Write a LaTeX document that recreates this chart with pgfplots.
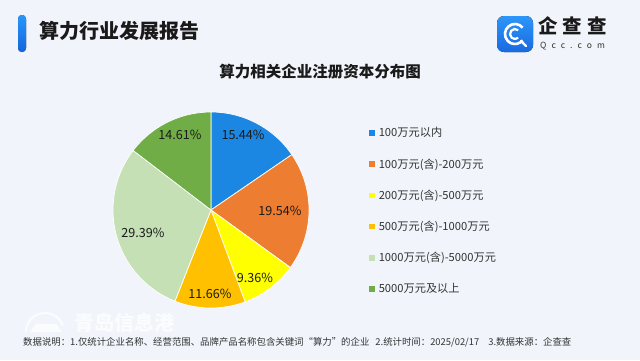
\documentclass[border=0pt]{standalone}
\usepackage{pgfplots}
\pgfplotsset{compat=1.18}
\usepackage{fontspec}
\setmainfont{Noto Sans CJK SC}
\definecolor{bgcol}{RGB}{241,244,250}
\definecolor{cblue}{HTML}{1C87E3}
\definecolor{corange}{HTML}{ED7D31}
\definecolor{cyellow}{HTML}{FFFF00}
\definecolor{cgold}{HTML}{FFC000}
\definecolor{clgreen}{HTML}{C5E0B4}
\definecolor{cgreen}{HTML}{70AD47}
\definecolor{titlecol}{HTML}{1A1A1A}
\definecolor{txtcol}{HTML}{333333}
% shares (%): 15.44, 19.54, 9.36, 11.66, 29.39, 14.61 ; slices clockwise from 90 deg, angle = 90 - 3.6*cumulative share
\begin{document}
\begin{tikzpicture}
\fill[bgcol] (0,0) rectangle (640pt,360pt);
% header bar
\fill[top color={rgb,255:red,40;green,150;blue,250}, bottom color={rgb,255:red,20;green,100;blue,220}, rounded corners=3.8pt] (18pt,308pt) rectangle (26pt,345pt);
\node[anchor=west, font=\bfseries\fontsize{20}{24}\selectfont, text=titlecol, inner sep=0pt] at (39pt,329pt) {算力行业发展报告};
% logo
\fill[top color={rgb,255:red,45;green,150;blue,250}, bottom color={rgb,255:red,25;green,105;blue,225}, rounded corners=7pt] (497pt,308pt) rectangle (533pt,344pt);
\draw[white, line width=2.6pt] (515pt,326pt) ++(40:10pt) arc[start angle=40, end angle=320, radius=10pt];
\draw[white, line width=2.2pt] (515pt,326pt) ++(50:5pt) arc[start angle=50, end angle=310, radius=5pt];
\draw[white, line width=2.4pt, line cap=round] (521pt,319pt) -- (526pt,314pt);
\node[anchor=west, font=\bfseries\fontsize{19.5}{22}\selectfont, text=titlecol, inner sep=0pt] at (538pt,334.5pt) {企\hspace{5pt}查\hspace{5pt}查};
\node[anchor=west, font=\fontsize{8.5}{10}\selectfont, text=txtcol, inner sep=0pt] at (540pt,314pt) {Q\hspace{5pt}c\hspace{5pt}c\hspace{5pt}.\hspace{5pt}c\hspace{5pt}o\hspace{5pt}m};
% subtitle
\node[font=\bfseries\fontsize{15.5}{18}\selectfont, text=titlecol, inner sep=0pt] at (320pt,288pt) {算力相关企业注册资本分布图};
% watermark
\begin{scope}[white, opacity=0.75]
\draw[line width=2.2pt] (26pt,28pt) arc[start angle=180, end angle=20, radius=19pt];
\fill (30pt,28pt) -- (62pt,28pt) -- (56pt,36pt) -- (36pt,36pt) -- cycle;
\node[anchor=west, font=\bfseries\fontsize{20}{22}\selectfont, inner sep=0pt] at (74pt,37pt) {青岛信息港};
\end{scope}
\begin{axis}[at={(113pt,52pt)}, anchor=south west, width=196pt, height=196pt,
  scale only axis, xmin=-1, xmax=1, ymin=-1, ymax=1, hide axis, clip=false,
  legend style={at={(axis description cs:1.306,0.93)}, anchor=north west, draw=none, fill=none,
    inner sep=0pt, row sep=17.3pt, font=\fontsize{11.2}{12}\selectfont, text=txtcol,
    nodes={inner sep=1.5pt}},
  legend cell align=left,
  legend image code/.code={\fill[#1, draw=none] (0pt,-2.8pt) rectangle (5.6pt,2.8pt);},
  legend style={/tikz/every odd column/.append style={column sep=2.5pt}},
  ]
\addplot[fill=cblue, draw=white, line width=0.7pt, domain=34.416:90, samples=90] ({cos(x)},{sin(x)}) -- (axis cs:0,0) -- cycle;
\addplot[fill=corange, draw=white, line width=0.7pt, domain=-35.928:34.416, samples=90] ({cos(x)},{sin(x)}) -- (axis cs:0,0) -- cycle;
\addplot[fill=cyellow, draw=white, line width=0.7pt, domain=-69.624:-35.928, samples=60] ({cos(x)},{sin(x)}) -- (axis cs:0,0) -- cycle;
\addplot[fill=cgold, draw=white, line width=0.7pt, domain=-111.6:-69.624, samples=60] ({cos(x)},{sin(x)}) -- (axis cs:0,0) -- cycle;
\addplot[fill=clgreen, draw=white, line width=0.7pt, domain=-217.404:-111.6, samples=120] ({cos(x)},{sin(x)}) -- (axis cs:0,0) -- cycle;
\addplot[fill=cgreen, draw=white, line width=0.7pt, domain=-270:-217.404, samples=60] ({cos(x)},{sin(x)}) -- (axis cs:0,0) -- cycle;
\legend{100万元以内, 100万元(含)-200万元, 200万元(含)-500万元, 500万元(含)-1000万元, 1000万元(含)-5000万元, 5000万元及以上}
\begin{scope}[font=\fontsize{12.6}{14}\selectfont, text=titlecol]
\node at (axis cs:0.327,0.765) {15.44\%};
\node at (axis cs:0.704,-0.01) {19.54\%};
\node at (axis cs:0.449,-0.694) {9.36\%};
\node at (axis cs:-0.01,-0.857) {11.66\%};
\node at (axis cs:-0.694,-0.235) {29.39\%};
\node at (axis cs:-0.316,0.765) {14.61\%};
\end{scope}
\end{axis}
\node[anchor=west, font=\fontsize{9.4}{11}\selectfont, text=txtcol, inner sep=0pt] at (23pt,18pt) {数据说明：1.仅统计企业名称、经营范围、品牌产品名称包含关键词“算力”的企业\hspace{6pt}2.统计时间：2025/02/17\hspace{9pt}3.数据来源：企查查};
\pgfresetboundingbox
\useasboundingbox (0,0) rectangle (640pt,360pt);
\end{tikzpicture}
\end{document}
